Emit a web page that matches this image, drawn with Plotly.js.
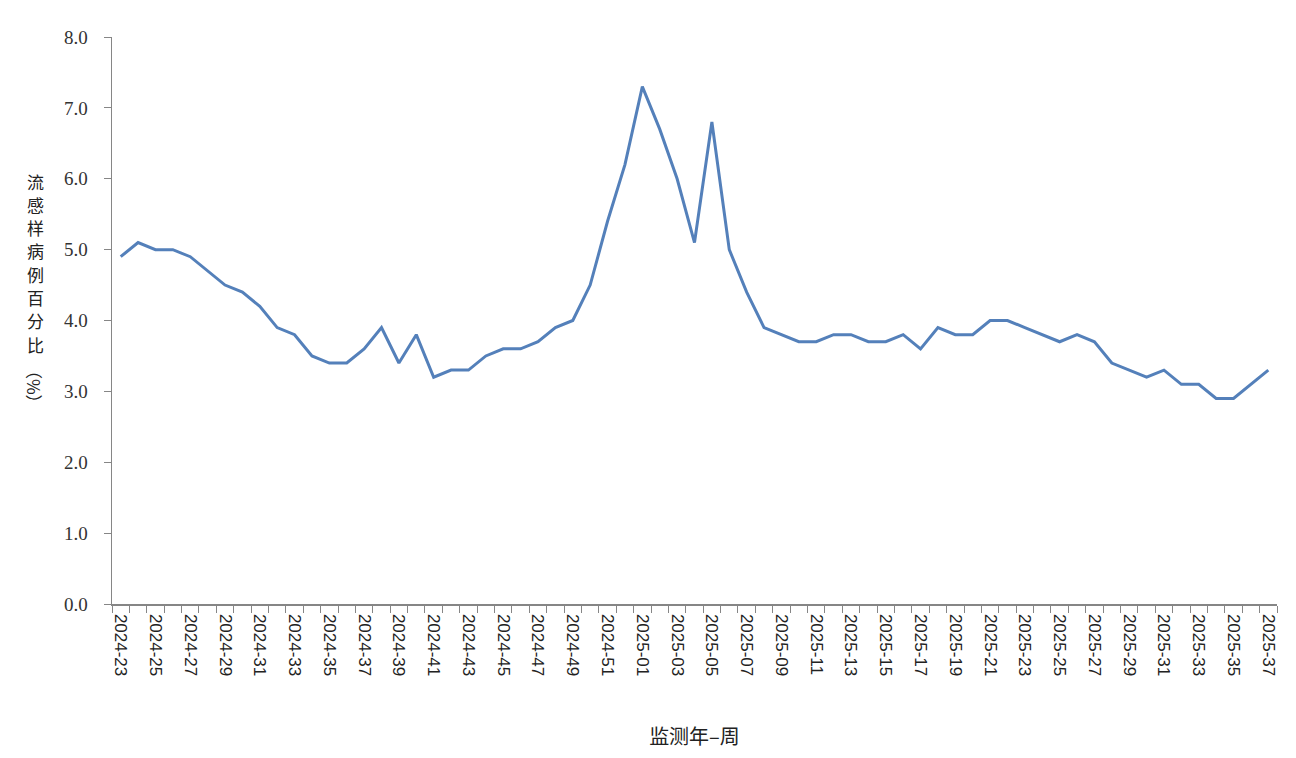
<!DOCTYPE html>
<html>
<head>
<meta charset="utf-8">
<script src="https://cdn.plot.ly/plotly-3.0.1.min.js"></script>
<style>html,body{margin:0;padding:0;background:#fff}#chart{width:1296px;height:758px}</style>
</head>
<body>
<div id="chart"></div>
<script>
const weeks2024 = ['2024-23','2024-24','2024-25','2024-26','2024-27','2024-28','2024-29','2024-30','2024-31','2024-32','2024-33','2024-34','2024-35','2024-36','2024-37','2024-38','2024-39','2024-40','2024-41','2024-42','2024-43','2024-44','2024-45','2024-46','2024-47','2024-48','2024-49','2024-50','2024-51','2024-52'];
const weeks2025 = ['2025-01','2025-02','2025-03','2025-04','2025-05','2025-06','2025-07','2025-08','2025-09','2025-10','2025-11','2025-12','2025-13','2025-14','2025-15','2025-16','2025-17','2025-18','2025-19','2025-20','2025-21','2025-22','2025-23','2025-24','2025-25','2025-26','2025-27','2025-28','2025-29','2025-30','2025-31','2025-32','2025-33','2025-34','2025-35','2025-36','2025-37'];
const values2024 = [4.9,5.1,5.0,5.0,4.9,4.7,4.5,4.4,4.2,3.9,3.8,3.5,3.4,3.4,3.6,3.9,3.4,3.8,3.2,3.3,3.3,3.5,3.6,3.6,3.7,3.9,4.0,4.5,5.4,6.2];
const values2025 = [7.3,6.7,6.0,5.1,6.8,5.0,4.4,3.9,3.8,3.7,3.7,3.8,3.8,3.7,3.7,3.8,3.6,3.9,3.8,3.8,4.0,4.0,3.9,3.8,3.7,3.8,3.7,3.4,3.3,3.2,3.3,3.1,3.1,2.9,2.9,3.1,3.3];
const yTickVals = [0,1,2,3,4,5,6,7,8];
const yTickText = ['0.0','1.0','2.0','3.0','4.0','5.0','6.0','7.0','8.0'];
const xTitle = '监测年–周';
const yTitleChars = ['流','感','样','病','例','百','分','比'];
const yTitleUnit = '（%）';

const categories = weeks2024.concat(weeks2025);
const values = values2024.concat(values2025);
const xTickText = categories.map((c, i) => (i % 2 === 0 ? c : ''));

const axisColor = '#868686';
const textColor = '#333333';
const titleFont = {family: 'Noto Sans CJK SC, sans-serif', size: 17, color: '#222'};

const trace = {
  type: 'scatter',
  mode: 'lines',
  x: categories,
  y: values,
  line: {color: '#5480BA', width: 3},
  hoverinfo: 'x+y'
};

// vertical stacked y-axis title (one character per annotation)
const plotTop = 37, plotH = 567;
const charStart = 181, charStep = 23.3;
const annotations = yTitleChars.map((ch, i) => ({
  xref: 'paper', yref: 'paper',
  x: -0.066, y: 1 - (charStart + i * charStep - plotTop) / plotH,
  xanchor: 'center', yanchor: 'middle',
  text: ch, showarrow: false, font: titleFont
}));
annotations.push({
  xref: 'paper', yref: 'paper',
  x: -0.066, y: 1 - (387 - plotTop) / plotH,
  xanchor: 'center', yanchor: 'middle',
  text: yTitleUnit, textangle: 90, showarrow: false, font: titleFont
});

const layout = {
  width: 1296,
  height: 758,
  margin: {l: 112, r: 19, t: 37, b: 154},
  paper_bgcolor: '#ffffff',
  plot_bgcolor: '#ffffff',
  showlegend: false,
  xaxis: {
    type: 'category',
    range: [-0.5, categories.length - 0.5],
    tickmode: 'array',
    tickvals: categories,
    ticktext: xTickText,
    tickson: 'boundaries',
    ticks: 'outside',
    ticklen: 7,
    tickcolor: axisColor,
    tickwidth: 1,
    tickangle: 90,
    ticklabelstandoff: 5,
    tickfont: {family: 'Liberation Sans, Arial, sans-serif', size: 17, color: '#222'},
    showline: true,
    linecolor: axisColor,
    linewidth: 1.5,
    showgrid: false,
    zeroline: false,
    title: {text: xTitle, font: {family: 'Noto Sans CJK SC, sans-serif', size: 20, color: '#222'}, standoff: 54}
  },
  yaxis: {
    range: [0, 8],
    tickmode: 'array',
    tickvals: yTickVals,
    ticktext: yTickText,
    ticks: 'outside',
    ticklen: 7,
    tickcolor: axisColor,
    tickwidth: 1,
    ticklabelstandoff: 12,
    tickfont: {family: 'Liberation Serif, Times New Roman, serif', size: 19, color: textColor},
    showline: true,
    linecolor: axisColor,
    linewidth: 1.5,
    showgrid: false,
    zeroline: false
  },
  annotations: annotations
};

Plotly.newPlot('chart', [trace], layout, {staticPlot: true});
</script>
</body>
</html>
